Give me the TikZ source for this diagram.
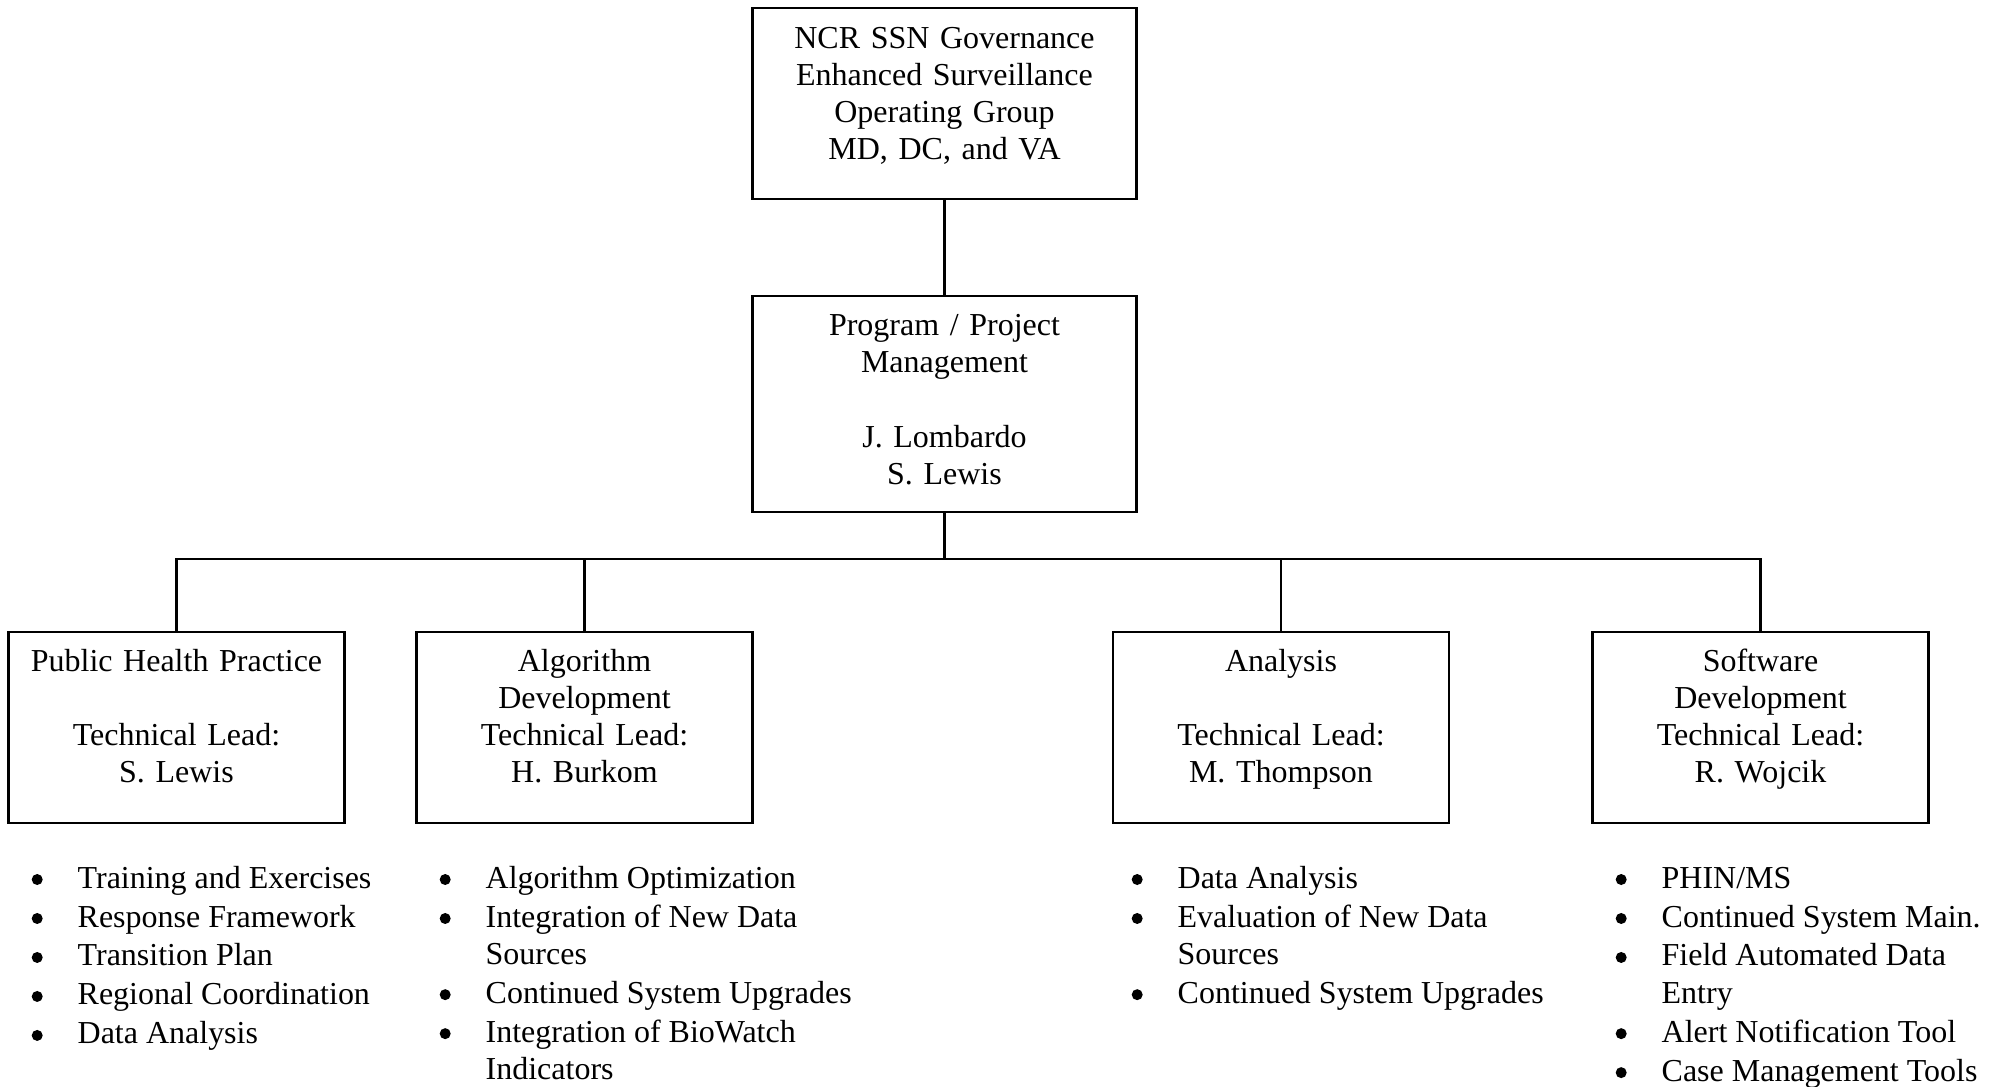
\documentclass[tikz,border=0pt]{standalone}
\usepackage{fontspec}
\setmainfont{Liberation Serif}
\usepackage{tikz}
\newcommand{\boxfont}{\fontsize{9.1pt}{10.58pt}\selectfont}
\newcommand{\listfont}{\fontsize{9.1pt}{10.58pt}\selectfont}
\newcommand{\bul}{\tikz[baseline=-0.85mm]\fill (0,0) circle (0.55mm); &}
\tikzstyle{box}=[draw, line width=0.6pt, inner sep=0pt, align=center, font=\boxfont, anchor=north]
\tikzstyle{unit}=[box, text width=33.6mm, text height=3.95mm, text depth=15.2mm]
\tikzstyle{list}=[inner sep=0pt, anchor=base west, font=\listfont]

\begin{document}
\begin{tikzpicture}[x=0.1mm, y=-0.1mm]
      \useasboundingbox (0,0) rectangle (2000,1086);

      \node[box, text width=38.4mm, text height=4.03mm, text depth=15.07mm] (gov) at (944.5,7) {NCR SSN Governance\\Enhanced Surveillance\\Operating Group\\MD, DC, and VA};
      \node[box, text width=38.4mm, text height=3.95mm, text depth=17.65mm] (pm) at (944.5,295) {Program / Project\\Management\\[3.72mm]J. Lombardo\\S. Lewis};
      \coordinate (bus) at (944.5,559);

      \node[unit] (ph) at (176.5,630.5) {Public Health Practice\\[3.72mm]Technical Lead:\\S. Lewis};
      \node[unit] (alg) at (584.5,630.5) {Algorithm\\Development\\Technical Lead:\\H. Burkom};
      \node[unit] (ana) at (1281,630.5) {Analysis\\[3.72mm]Technical Lead:\\M. Thompson};
      \node[unit] (sw) at (1760.5,630.5) {Software\\Development\\Technical Lead:\\R. Wojcik};

      \draw[line width=0.6pt] (gov) -- (pm);
      \draw[line width=0.6pt] (pm) -- (bus);
      \draw[line width=0.6pt] (ph) |- (bus) -| (sw);
      \draw[line width=0.6pt] (alg) -- (alg |- bus);
      \draw[line width=0.6pt] (ana) -- (ana |- bus);

      \node[list] (l1) at (31,888) {\begin{tabular}[t]{@{}p{4.6mm}@{}l@{}}
        \bul Training and Exercises\\[0.18mm]
        \bul Response Framework\\[0.18mm]
        \bul Transition Plan\\[0.18mm]
        \bul Regional Coordination\\[0.18mm]
        \bul Data Analysis
      \end{tabular}};
      \node[list] (l2) at (439,888) {\begin{tabular}[t]{@{}p{4.6mm}@{}l@{}}
        \bul Algorithm Optimization\\[0.18mm]
        \bul Integration of New Data\\
        & Sources\\[0.18mm]
        \bul Continued System Upgrades\\[0.18mm]
        \bul Integration of BioWatch\\
        & Indicators
      \end{tabular}};
      \node[list] (l3) at (1131,888) {\begin{tabular}[t]{@{}p{4.6mm}@{}l@{}}
        \bul Data Analysis\\[0.18mm]
        \bul Evaluation of New Data\\
        & Sources\\[0.18mm]
        \bul Continued System Upgrades
      \end{tabular}};
      \node[list] (l4) at (1615,888) {\begin{tabular}[t]{@{}p{4.6mm}@{}l@{}}
        \bul PHIN/MS\\[0.18mm]
        \bul Continued System Main.\\[0.18mm]
        \bul Field Automated Data\\
        & Entry\\[0.18mm]
        \bul Alert Notification Tool\\[0.18mm]
        \bul Case Management Tools
      \end{tabular}};
    \end{tikzpicture}
\end{document}
